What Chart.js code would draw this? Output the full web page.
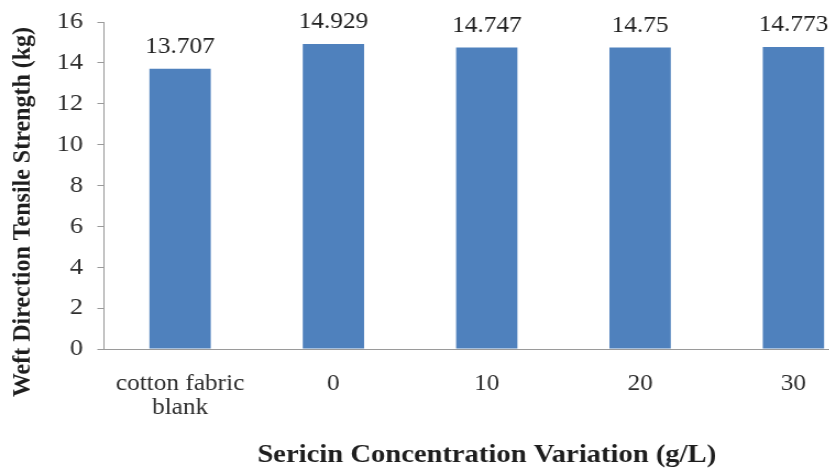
<!DOCTYPE html>
<html>
<head>
<meta charset="utf-8">
<script src="https://cdn.jsdelivr.net/npm/chart.js@4/dist/chart.umd.min.js"></script>
<style>
  html, body { margin: 0; padding: 0; background: #fff; overflow: hidden; width: 829px; height: 468px; }
  #wrap { width: 791px; height: 468px; transform: scaleX(1.1); transform-origin: 0 0; }
  canvas { display: block; }
</style>
</head>
<body>
<div id="wrap"><canvas id="chart" width="791" height="468"></canvas></div>
<script>
// Weft direction tensile strength for each sericin concentration
const categories = [['cotton fabric', 'blank'], '0', '10', '20', '30'];
const strengthKg = [13.707, 14.929, 14.747, 14.75, 14.773];
const yTicks = [0, 2, 4, 6, 8, 10, 12, 14, 16];
const yTitle = 'Weft Direction Tensile Strength (kg)';
const xTitle = 'Sericin Concentration Variation (g/L)';

const axisGray = '#9a9a9a';
const textColor = '#2e2e2e';
const serif = "'Liberation Serif', 'Times New Roman', serif";

// Writes each bar's value above it
const valueLabels = {
  id: 'valueLabels',
  afterDatasetsDraw(chart) {
    const ctx = chart.ctx;
    const meta = chart.getDatasetMeta(0);
    ctx.save();
    ctx.font = `23px ${serif}`;
    ctx.fillStyle = '#222222';
    ctx.textAlign = 'center';
    ctx.textBaseline = 'alphabetic';
    meta.data.forEach((bar, i) => {
      ctx.fillText(String(strengthKg[i]), bar.x, bar.y - 16);
    });
    ctx.restore();
  }
};

// Vertical axis title, set somewhat below the plot's vertical centre
const sideTitle = {
  id: 'sideTitle',
  afterDraw(chart) {
    const ctx = chart.ctx;
    const area = chart.chartArea;
    ctx.save();
    ctx.translate(20.5, (area.top + area.bottom) / 2 + 26.5);
    ctx.rotate(-Math.PI / 2);
    ctx.font = `bold 24px ${serif}`;
    ctx.fillStyle = '#1e1e1e';
    ctx.textAlign = 'center';
    ctx.textBaseline = 'middle';
    ctx.fillText(yTitle, 0, 0);
    ctx.restore();
  }
};

new Chart(document.getElementById('chart'), {
  type: 'bar',
  data: {
    labels: categories,
    datasets: [{
      data: strengthKg,
      backgroundColor: '#4f81bd',
      borderWidth: 0,
      barPercentage: 0.4,
      categoryPercentage: 1.0
    }]
  },
  options: {
    responsive: false,
    animation: false,
    devicePixelRatio: 1,
    layout: { padding: { top: 22, left: 0, right: 0, bottom: 0 } },
    plugins: {
      legend: { display: false },
      tooltip: { enabled: false }
    },
    scales: {
      x: {
        offset: true,
        afterFit(scale) { scale.height = 119; },
        grid: { display: false, drawTicks: false },
        border: { display: true, color: axisGray, width: 1 },
        ticks: {
          color: textColor,
          padding: 23,
          maxRotation: 0,
          autoSkip: false,
          font: { family: serif, size: 23, lineHeight: 1.05 }
        },
        title: {
          display: true,
          text: xTitle,
          color: '#1e1e1e',
          font: { family: serif, size: 26, weight: 'bold', lineHeight: 1.0 },
          padding: { top: 0, bottom: 0 }
        }
      },
      y: {
        min: 0,
        max: 16,
        afterFit(scale) {
          scale.width = 94;
          scale.paddingTop = 0;
          scale.paddingBottom = 0;
        },
        afterBuildTicks(scale) { scale.ticks = yTicks.map(v => ({ value: v })); },
        grid: {
          display: true,
          drawOnChartArea: false,
          drawTicks: true,
          tickLength: 5.5,
          color: axisGray,
          lineWidth: 1
        },
        border: { display: true, color: axisGray, width: 1 },
        ticks: {
          color: textColor,
          padding: 13,
          font: { family: serif, size: 24 }
        },
        title: { display: false }
      }
    }
  },
  plugins: [valueLabels, sideTitle]
});
</script>
</body>
</html>
